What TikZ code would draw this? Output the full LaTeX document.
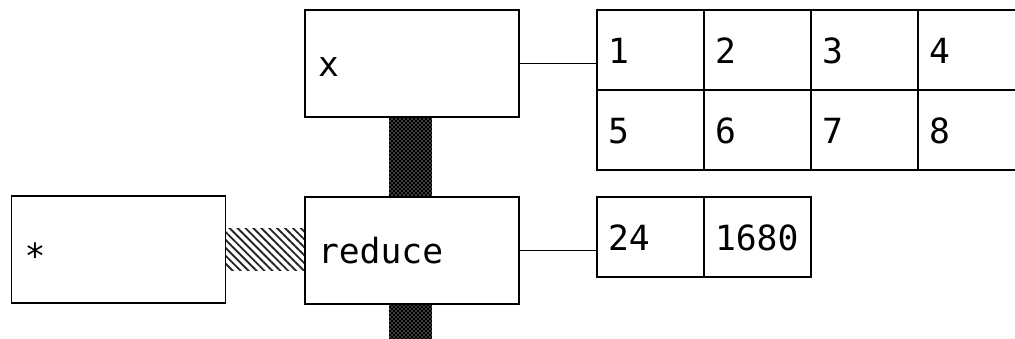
\documentclass[tikz,border=0pt]{standalone}
\usepackage{fontspec}
\setmonofont{DejaVu Sans Mono}
\usetikzlibrary{patterns,patterns.meta}

\begin{document}
\begin{tikzpicture}[x=0.75pt,y=-0.75pt,
  lbl/.style={draw, line width=1.4pt, anchor=north west, inner ysep=0pt,
    outer sep=0pt, align=left, text height=19.5pt, text depth=0pt,
    font=\ttfamily\fontsize{26}{30}\selectfont},
  fnbox/.style={lbl, inner xsep=9.75pt, text width=141pt, minimum height=80.25pt},
  cell/.style={lbl, inner xsep=8.25pt, text width=63.75pt, minimum height=60pt},
  wire/.style={line width=1.4pt},
  vbar/.style={fill=black, postaction={pattern=crosshatch dots, pattern color=white}},
  hbar/.style={pattern={Lines[angle=-45,distance=4.2pt,line width=1.4pt]}, pattern color=black!85}
]
\useasboundingbox (0,0) rectangle (1015,339);
\clip (0,0) rectangle (1015,339);

% function boxes
\node[fnbox] (xbox) at (305,10) {x};
\node[fnbox] (redbox) at (305,197) {reduce};
\node[fnbox] (opbox) at (11.5,196) {\raisebox{-4.5pt}{*}};

% input array, 2 x 4
\node[cell] (t1) at (597,10) {1};
\node[cell] (t2) at (704,10) {2};
\node[cell] (t3) at (811,10) {3};
\node[cell] (t4) at (918,10) {4};
\node[cell] (t5) at (597,90) {5};
\node[cell] (t6) at (704,90) {6};
\node[cell] (t7) at (811,90) {7};
\node[cell] (t8) at (918,90) {8};

% result array
\node[cell] (r1) at (597,197) {24};
\node[cell] (r2) at (704,197) {1680};

% data links between boxes
\path[vbar] ([shift={(84,0)}]xbox.south west) rectangle ([shift={(127,0)}]redbox.north west);
\path[vbar] ([shift={(84,0)}]redbox.south west) rectangle ([shift={(127,50)}]redbox.south west);
\path[hbar] ([shift={(0,32)}]opbox.north east) rectangle ([shift={(0,73)}]redbox.north west);

% redraw borders over the bars
\draw[wire] (xbox.south west) -- (xbox.south east);
\draw[wire] (redbox.north west) rectangle (redbox.south east);
\draw[wire] (opbox.north east) -- (opbox.south east);

% value connectors
\draw[wire] (xbox.east) -- (xbox.east -| t1.west);
\draw[wire] (redbox.east) -- (redbox.east -| r1.west);
\end{tikzpicture}
\end{document}
